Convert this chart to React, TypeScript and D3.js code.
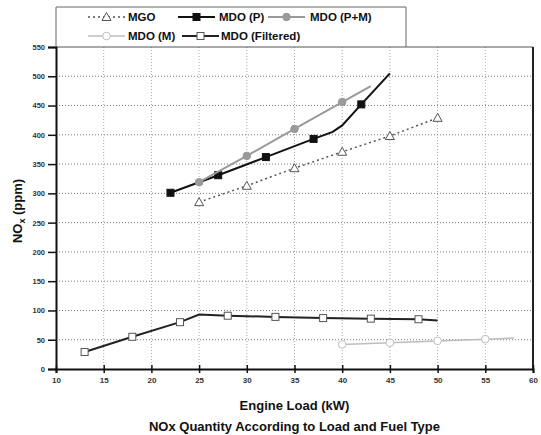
import React, { useRef, useEffect } from "react";
import * as d3 from "d3";

// x ticks (kW) and y ticks (ppm)
const xTicks = [10, 15, 20, 25, 30, 35, 40, 45, 50, 55, 60];
const yTicks = [0, 50, 100, 150, 200, 250, 300, 350, 400, 450, 500, 550];

// each series: [load, NOx, hasMarker]
const mgo = [
  [25, 285, 1], [30, 313, 1], [35, 343, 1], [40, 371, 1], [45, 398, 1], [50, 429, 1],
];
const mdoP = [
  [22, 301, 1], [27, 331, 1], [32, 362, 1], [37, 393, 1], [39, 405, 0],
  [40, 416, 0], [42, 452, 1], [45, 505, 0],
];
const mdoPM = [
  [25, 319, 1], [30, 364, 1], [35, 410, 1], [40, 456, 1], [43, 483, 0],
];
const mdoM = [
  [40, 42, 1], [45, 45, 1], [50, 48, 1], [55, 51, 1], [58, 53, 0],
];
const mdoFiltered = [
  [13, 29, 1], [18, 55, 1], [23, 80, 1], [25, 93, 0], [28, 91, 1], [33, 89, 1],
  [38, 87, 1], [43, 86, 1], [48, 85, 1], [50, 83, 0],
];

const series = [
  { name: "MGO", data: mgo, stroke: "#555", width: 1.5, dash: "2,3", marker: "triangle", mFill: "#fff", mStroke: "#555" },
  { name: "MDO (P)", data: mdoP, stroke: "#111", width: 2, dash: null, marker: "square", mFill: "#111", mStroke: "#111" },
  { name: "MDO (P+M)", data: mdoPM, stroke: "#9a9a9a", width: 2, dash: null, marker: "circle", mFill: "#9a9a9a", mStroke: "#9a9a9a" },
  { name: "MDO (M)", data: mdoM, stroke: "#bdbdbd", width: 1.5, dash: null, marker: "circle", mFill: "#fff", mStroke: "#bdbdbd" },
  { name: "MDO (Filtered)", data: mdoFiltered, stroke: "#222", width: 2, dash: null, marker: "square", mFill: "#fff", mStroke: "#555" },
];

const legendPos = [
  [88, 20, 128], [178, 20, 219], [268, 20, 310],
  [88, 39, 128], [182, 39, 221],
];

const W = 541, H = 435;
const L = 56, R = 533, T = 47, B = 369;
const FONT = "Liberation Sans, Arial, sans-serif";

function drawMarker(g, type, x, y, fill, stroke) {
  if (type === "square") {
    g.append("rect").attr("x", x - 3.5).attr("y", y - 3.5).attr("width", 7).attr("height", 7)
      .attr("fill", fill).attr("stroke", stroke).attr("stroke-width", 1);
  } else if (type === "circle") {
    g.append("circle").attr("cx", x).attr("cy", y).attr("r", 3.8)
      .attr("fill", fill).attr("stroke", stroke).attr("stroke-width", 1);
  } else {
    g.append("path").attr("d", `M${x},${y - 4.5}L${x + 4.5},${y + 3.5}L${x - 4.5},${y + 3.5}Z`)
      .attr("fill", fill).attr("stroke", stroke).attr("stroke-width", 1);
  }
}

const App = () => {
  const ref = useRef(null);

  useEffect(() => {
    const svg = d3.select(ref.current);
    svg.selectAll("*").remove();
    svg.attr("width", W).attr("height", H).style("font-family", FONT);

    const x = d3.scaleLinear().domain([10, 60]).range([L, R]);
    const y = d3.scaleLinear().domain([0, 550]).range([B, T]);

    svg.append("rect").attr("width", W).attr("height", H).attr("fill", "#fff");

    // grid
    const grid = svg.append("g");
    grid.selectAll("line.v").data(xTicks.slice(1, -1)).enter().append("line")
      .attr("x1", (d) => x(d)).attr("x2", (d) => x(d)).attr("y1", T).attr("y2", B)
      .attr("stroke", "#aaa").attr("stroke-width", 1).attr("stroke-dasharray", "1,2");
    grid.selectAll("line.h").data(yTicks.slice(1, -1)).enter().append("line")
      .attr("x1", L).attr("x2", R).attr("y1", (d) => y(d)).attr("y2", (d) => y(d))
      .attr("stroke", "#777").attr("stroke-width", 1).attr("stroke-dasharray", "1,2");

    // frame
    svg.append("line").attr("x1", L).attr("x2", R).attr("y1", T).attr("y2", T)
      .attr("stroke", "#555").attr("stroke-width", 1);
    svg.append("line").attr("x1", R).attr("x2", R).attr("y1", T).attr("y2", B)
      .attr("stroke", "#222").attr("stroke-width", 2);

    // axes
    const yAxis = svg.append("g").attr("transform", `translate(${L},0)`)
      .call(d3.axisLeft(y).tickValues(yTicks).tickSize(8).tickPadding(3));
    yAxis.select(".domain").attr("stroke", "#111").attr("stroke-width", 2);
    yAxis.selectAll(".tick line").attr("stroke", "#111").attr("stroke-width", 1.5);
    yAxis.selectAll("text").attr("font-size", 7.5).attr("font-weight", "bold")
      .attr("fill", "#333").style("font-family", FONT);

    const xAxis = svg.append("g").attr("transform", `translate(0,${B})`)
      .call(d3.axisBottom(x).tickValues(xTicks).tickSize(4).tickPadding(4));
    xAxis.select(".domain").attr("stroke", "#111").attr("stroke-width", 2);
    xAxis.selectAll(".tick line").attr("stroke", "#111").attr("stroke-width", 1.5).attr("y1", -4);
    xAxis.selectAll("text").attr("font-size", 8).attr("font-weight", "bold")
      .attr("fill", "#333").style("font-family", FONT);

    // series
    const line = d3.line().x((d) => x(d[0])).y((d) => y(d[1]));
    series.forEach((s) => {
      const p = svg.append("path").datum(s.data).attr("d", line).attr("fill", "none")
        .attr("stroke", s.stroke).attr("stroke-width", s.width);
      if (s.dash) p.attr("stroke-dasharray", s.dash);
      const g = svg.append("g");
      s.data.filter((d) => d[2]).forEach((d) => drawMarker(g, s.marker, x(d[0]), y(d[1]), s.mFill, s.mStroke));
    });

    // legend
    svg.append("path").attr("d", `M${L},${T}V7H406V${T}`).attr("fill", "none")
      .attr("stroke", "#666").attr("stroke-width", 1);
    series.forEach((s, i) => {
      const [lx, ly, tx] = legendPos[i];
      const l = svg.append("line").attr("x1", lx).attr("x2", lx + 37).attr("y1", ly - 3).attr("y2", ly - 3)
        .attr("stroke", s.stroke).attr("stroke-width", s.width);
      if (s.dash) l.attr("stroke-dasharray", s.dash);
      drawMarker(svg, s.marker, lx + 18.5, ly - 3, s.mFill, s.mStroke);
      svg.append("text").attr("x", tx).attr("y", ly + 1).attr("font-size", 11.5)
        .attr("font-weight", "bold").attr("fill", "#111").text(s.name);
    });

    // titles
    const yt = svg.append("text").attr("transform", `translate(22,211) rotate(-90)`)
      .attr("text-anchor", "middle").attr("font-size", 13).attr("font-weight", "bold").attr("fill", "#111");
    yt.append("tspan").text("NO");
    yt.append("tspan").attr("font-size", 9).attr("dy", 3).text("x");
    yt.append("tspan").attr("dy", -3).text(" (ppm)");

    svg.append("text").attr("x", (L + R) / 2).attr("y", 410).attr("text-anchor", "middle")
      .attr("font-size", 13).attr("font-weight", "bold").attr("fill", "#111").text("Engine Load (kW)");
    svg.append("text").attr("x", (L + R) / 2).attr("y", 431).attr("text-anchor", "middle")
      .attr("font-size", 13).attr("font-weight", "bold").attr("fill", "#111")
      .text("NOx Quantity According to Load and Fuel Type");
  }, []);

  return (
    <div style={{ position: "absolute", left: 0, top: 0 }}>
      <svg ref={ref}></svg>
    </div>
  );
};

export default App;
